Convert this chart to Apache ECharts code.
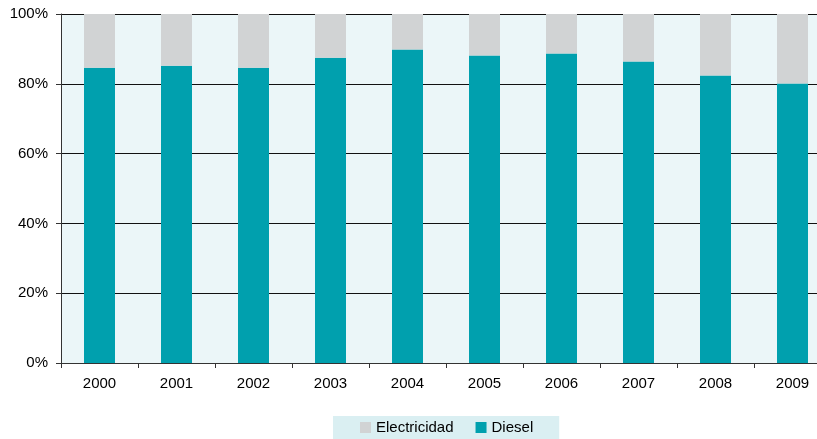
<!DOCTYPE html>
<html><head><meta charset="utf-8">
<script src="https://cdn.jsdelivr.net/npm/echarts@6/dist/echarts.min.js"></script>
<style>html,body{margin:0;padding:0;background:#fff;overflow:hidden;width:817px;height:439px}#c{width:831px;height:439px}</style>
</head><body><div id="c"></div>
<script>
const years = ['2000','2001','2002','2003','2004','2005','2006','2007','2008','2009'];
const diesel = [84.6, 85.2, 84.6, 87.5, 89.8, 88.1, 88.7, 86.4, 82.4, 80.1];
const electricidad = [15.4, 14.8, 15.4, 12.5, 10.2, 11.9, 11.3, 13.6, 17.6, 19.9];
const yTicks = ['0%','20%','40%','60%','80%','100%'];

const chart = echarts.init(document.getElementById('c'), null, {renderer:'canvas'});
const font = 'Liberation Sans, Arial, sans-serif';
chart.setOption({
  animation:false,
  grid:{left:61, top:14, width:770, height:349, show:true, backgroundColor:'#ebf6f8', borderWidth:0},
  legend:{
    data:['Electricidad','Diesel'], left:333, top:416,
    backgroundColor:'#daeff2', padding:[4,26,4,27], itemWidth:11, itemHeight:11, itemGap:22,
    icon:'rect', textStyle:{fontFamily:font, fontSize:15, color:'#000'}
  },
  xAxis:{
    type:'category', data:years, boundaryGap:true,
    axisLine:{lineStyle:{color:'#333', width:1}},
    axisTick:{show:true, length:5, lineStyle:{color:'#333'}},
    axisLabel:{fontFamily:font, fontSize:15, color:'#000', margin:13}
  },
  yAxis:{
    type:'value', min:0, max:100, interval:20,
    axisLine:{show:true, lineStyle:{color:'#333', width:1}},
    axisTick:{show:true, length:5, lineStyle:{color:'#333'}},
    splitLine:{show:true, lineStyle:{color:'#111', width:1}},
    axisLabel:{fontFamily:font, fontSize:15, color:'#000', margin:13,
      formatter:(v)=>yTicks[Math.round(v/20)]}
  },
  series:[
    {name:'Diesel', type:'bar', stack:'a', data:diesel, barWidth:31, itemStyle:{color:'#00a0ae'}},
    {name:'Electricidad', type:'bar', stack:'a', data:electricidad, barWidth:31, itemStyle:{color:'#d1d3d4'}}
  ]
});
</script></body></html>
